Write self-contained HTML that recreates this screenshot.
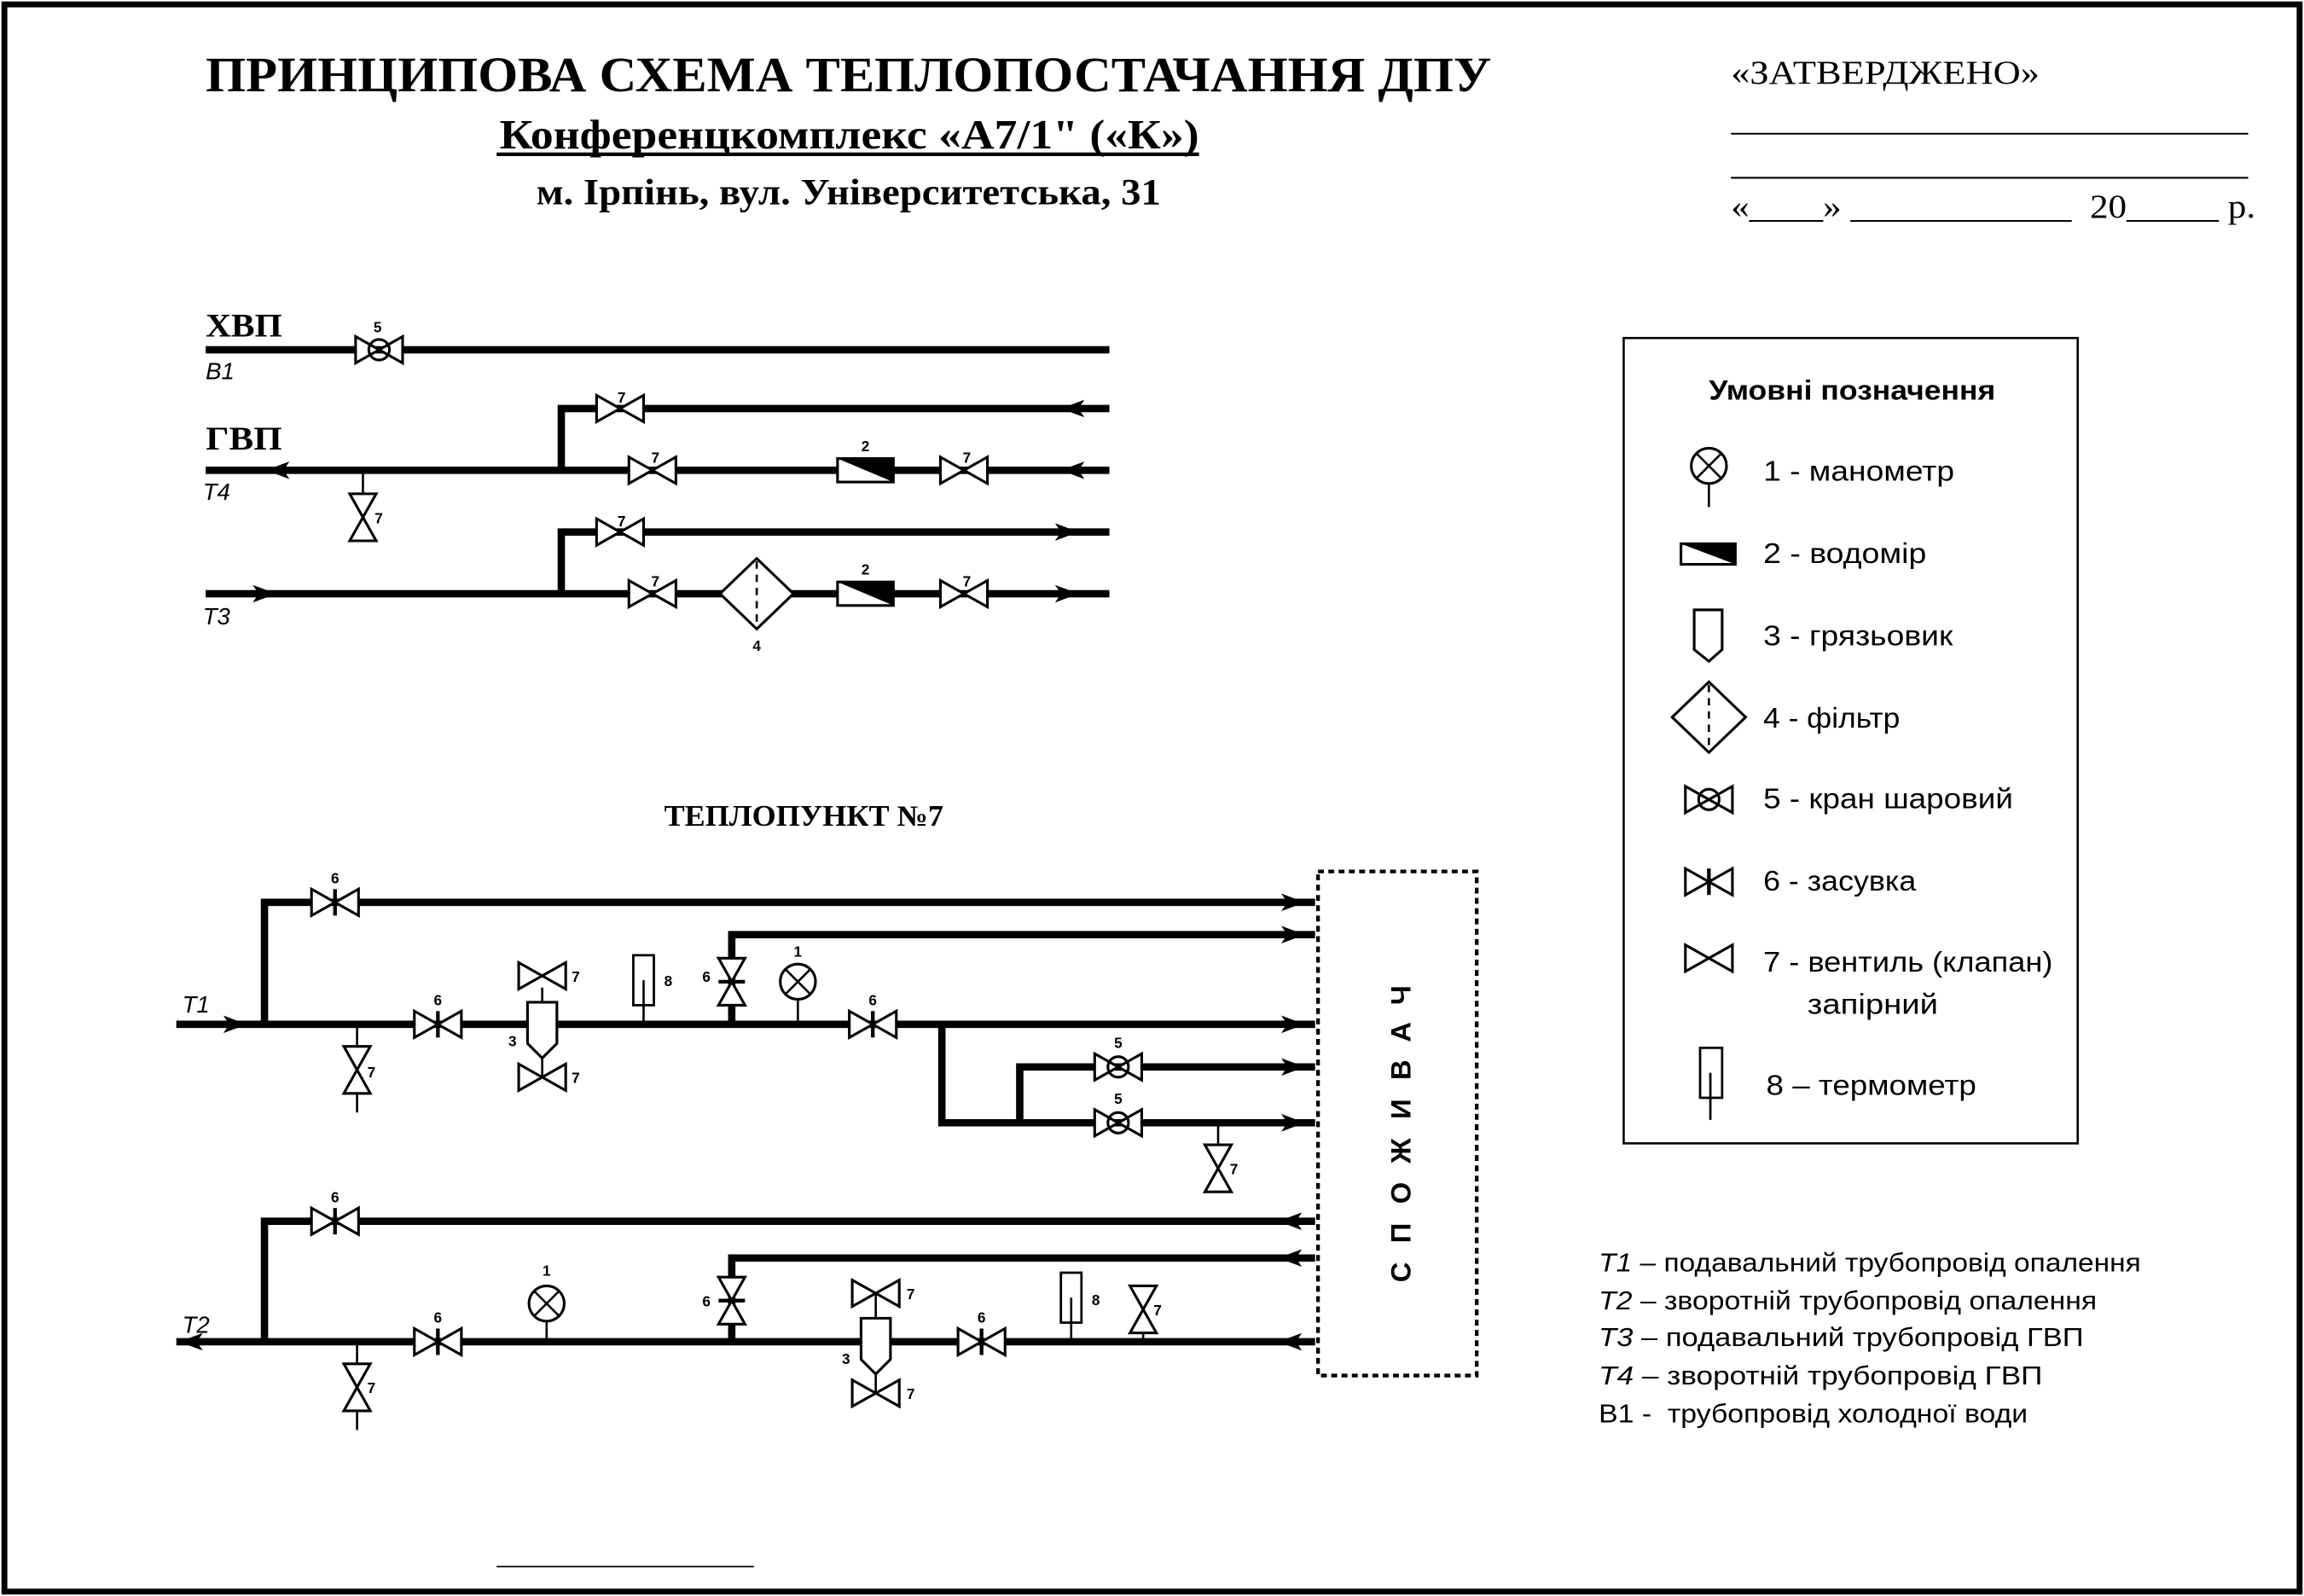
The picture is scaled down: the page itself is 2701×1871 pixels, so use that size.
<!DOCTYPE html>
<html><head><meta charset="utf-8"><style>
html,body{margin:0;padding:0;background:#fff}
svg{display:block}
.s{font-family:"Liberation Serif",serif;font-weight:bold}
.n{font-family:"Liberation Sans",sans-serif}
.lb{font-family:"Liberation Sans",sans-serif;font-size:10px;font-weight:bold}
</style></head><body>
<svg width="2701" height="1871" viewBox="0 0 1568 1086" preserveAspectRatio="none" xmlns="http://www.w3.org/2000/svg">
<defs>
<g id="v7"><path d="M-16,-9 L16,9 L16,-9 L-16,9 Z" fill="#fff" stroke="#000" stroke-width="1.8"/></g>
<g id="v6"><path d="M-16,-9 L16,9 L16,-9 L-16,9 Z" fill="#fff" stroke="#000" stroke-width="1.8"/><line x1="0" y1="-9" x2="0" y2="9" stroke="#000" stroke-width="2.5"/></g>
<g id="v5"><path d="M-16,-9 L16,9 L16,-9 L-16,9 Z" fill="#fff" stroke="#000" stroke-width="1.8"/><circle r="7" fill="none" stroke="#000" stroke-width="1.8"/></g>
<g id="ar"><path d="M-12,-6 L4,0 L-12,6 L-8,0 Z" fill="#000"/></g>
<g id="al"><path d="M12,-6 L-4,0 L12,6 L8,0 Z" fill="#000"/></g>
<g id="wm"><rect x="-19" y="-8" width="38" height="16" fill="#fff" stroke="#000" stroke-width="1.8"/><path d="M-19,-8 L19,-8 L19,8 Z" fill="#000"/></g>
<g id="mn"><circle r="12" fill="#fff" stroke="#000" stroke-width="1.8"/><path d="M-8.5,-8.5 L8.5,8.5 M8.5,-8.5 L-8.5,8.5" stroke="#000" stroke-width="1.5"/></g>
<g id="th"><rect x="-7" y="-17" width="14" height="34" fill="#fff" stroke="#000" stroke-width="1.6"/><line x1="0" y1="0" x2="0" y2="17" stroke="#000" stroke-width="1.5"/></g>
<g id="mud"><path d="M-10,0 L10,0 L10,28 L0,38 L-10,28 Z" fill="#fff" stroke="#000" stroke-width="1.8"/></g>
</defs>
<rect x="3" y="3" width="1562" height="1080" fill="none" stroke="#000" stroke-width="4"/>

<!-- header -->
<text x="140" y="62" class="s" font-size="34" textLength="875" lengthAdjust="spacingAndGlyphs">ПРИНЦИПОВА СХЕМА ТЕПЛОПОСТАЧАННЯ ДПУ</text>
<text x="340" y="101" class="s" font-size="28" textLength="476" lengthAdjust="spacingAndGlyphs">Конференцкомплекс «А7/1" («К»)</text>
<line x1="338" y1="105" x2="816" y2="105" stroke="#000" stroke-width="2.5"/>
<text x="365" y="139" class="s" font-size="25" textLength="425" lengthAdjust="spacingAndGlyphs">м. Ірпінь, вул. Університетська, 31</text>
<text x="1178" y="57" font-family="Liberation Serif,serif" font-size="23" textLength="210" lengthAdjust="spacingAndGlyphs">«ЗАТВЕРДЖЕНО»</text>
<line x1="1178" y1="91" x2="1530" y2="91" stroke="#000" stroke-width="1.2"/>
<line x1="1178" y1="121" x2="1530" y2="121" stroke="#000" stroke-width="1.2"/>
<text x="1178" y="148" font-family="Liberation Serif,serif" font-size="23" textLength="357" lengthAdjust="spacingAndGlyphs" xml:space="preserve">«____» ____________  20_____ р.</text>

<!-- ХВП / ГВП -->
<g stroke="#000" stroke-width="5" fill="none">
<line x1="140" y1="238" x2="755" y2="238"/>
<line x1="140" y1="320" x2="755" y2="320"/>
<polyline points="382,320 382,278 755,278"/>
<line x1="140" y1="404" x2="755" y2="404"/>
<polyline points="382,404 382,362 755,362"/>
</g>
<text x="140" y="229" class="s" font-size="23" textLength="52" lengthAdjust="spacingAndGlyphs">ХВП</text>
<text x="140" y="258" class="n" font-size="16" font-style="italic">В1</text>
<text x="140" y="306" class="s" font-size="23" textLength="52" lengthAdjust="spacingAndGlyphs">ГВП</text>
<text x="138" y="340" class="n" font-size="16" font-style="italic">Т4</text>
<text x="138" y="425" class="n" font-size="16" font-style="italic">Т3</text>
<use href="#v5" x="258" y="238"/><text x="257" y="226" class="lb" text-anchor="middle">5</text>
<use href="#v7" x="422" y="278"/><text x="423" y="274" class="lb" text-anchor="middle">7</text>
<use href="#al" x="726" y="278"/>
<use href="#al" x="185" y="320"/>
<use href="#v7" x="444" y="320"/><text x="446" y="315" class="lb" text-anchor="middle">7</text>
<use href="#wm" x="589" y="320"/><text x="589" y="307" class="lb" text-anchor="middle">2</text>
<use href="#v7" x="656" y="320"/><text x="658" y="315" class="lb" text-anchor="middle">7</text>
<use href="#al" x="726" y="320"/>
<line x1="247" y1="320" x2="247" y2="336" stroke="#000" stroke-width="1.5"/>
<use href="#v7" transform="translate(247,352) rotate(90)"/><text x="255" y="356" class="lb">7</text>
<use href="#ar" x="184" y="404"/>
<use href="#v7" x="422" y="362"/><text x="423" y="358" class="lb" text-anchor="middle">7</text>
<use href="#ar" x="730" y="362"/>
<use href="#v7" x="444" y="404"/><text x="446" y="399" class="lb" text-anchor="middle">7</text>
<path d="M490,404 L515,380 L540,404 L515,428 Z" fill="#fff" stroke="#000" stroke-width="1.8"/>
<line x1="515" y1="382" x2="515" y2="426" stroke="#000" stroke-width="1.5" stroke-dasharray="5,4"/>
<text x="515" y="443" class="lb" text-anchor="middle">4</text>
<use href="#wm" x="589" y="404"/><text x="589" y="391" class="lb" text-anchor="middle">2</text>
<use href="#v7" x="656" y="404"/><text x="658" y="399" class="lb" text-anchor="middle">7</text>
<use href="#ar" x="730" y="404"/>

<!-- ТЕПЛОПУНКТ -->
<text x="452" y="562" class="s" font-size="20" textLength="190" lengthAdjust="spacingAndGlyphs">ТЕПЛОПУНКТ №7</text>
<g stroke="#000" stroke-width="5" fill="none">
<polyline points="180,697 180,614 895,614"/>
<polyline points="498,697 498,636 895,636"/>
<line x1="120" y1="697" x2="895" y2="697"/>
<polyline points="641,697 641,764 895,764"/>
<polyline points="694,764 694,726 895,726"/>
<polyline points="180,913 180,831 895,831"/>
<polyline points="498,913 498,856 895,856"/>
<line x1="120" y1="913" x2="895" y2="913"/>
</g>
<text x="124" y="689" class="n" font-size="16" font-style="italic">Т1</text>
<text x="124" y="907" class="n" font-size="16" font-style="italic">Т2</text>
<use href="#ar" x="164" y="697"/>
<g>
<use href="#ar" x="884" y="614"/><use href="#ar" x="884" y="636"/><use href="#ar" x="884" y="697"/>
<use href="#ar" x="884" y="726"/><use href="#ar" x="884" y="764"/>
<use href="#al" x="874" y="831"/><use href="#al" x="874" y="856"/><use href="#al" x="874" y="913"/>
<use href="#al" x="126" y="913"/>
</g>
<!-- T1 components -->
<use href="#v6" x="228" y="614"/><text x="228" y="601" class="lb" text-anchor="middle">6</text>
<use href="#v6" transform="translate(498,668) rotate(90)"/><text x="478" y="668" class="lb">6</text>
<line x1="243" y1="697" x2="243" y2="712" stroke="#000" stroke-width="1.5"/>
<use href="#v7" transform="translate(243,728) rotate(90)"/><line x1="243" y1="744" x2="243" y2="757" stroke="#000" stroke-width="1.5"/><text x="250" y="733" class="lb">7</text>
<use href="#v6" x="298" y="697"/><text x="298" y="684" class="lb" text-anchor="middle">6</text>
<line x1="369" y1="672" x2="369" y2="733" stroke="#000" stroke-width="1.5"/>
<use href="#v7" x="369" y="664"/><text x="389" y="668" class="lb">7</text>
<use href="#mud" x="369" y="682"/>
<use href="#v7" x="369" y="733"/><text x="389" y="737" class="lb">7</text>
<text x="346" y="712" class="lb">3</text>
<use href="#th" x="438" y="667"/><line x1="438" y1="684" x2="438" y2="697" stroke="#000" stroke-width="1.5"/><text x="452" y="671" class="lb">8</text>
<line x1="543" y1="680" x2="543" y2="697" stroke="#000" stroke-width="1.5"/>
<use href="#mn" x="543" y="668"/><text x="543" y="651" class="lb" text-anchor="middle">1</text>
<use href="#v6" x="594" y="697"/><text x="594" y="684" class="lb" text-anchor="middle">6</text>
<use href="#v5" x="761" y="726"/><text x="761" y="713" class="lb" text-anchor="middle">5</text>
<use href="#v5" x="761" y="764"/><text x="761" y="751" class="lb" text-anchor="middle">5</text>
<line x1="829" y1="764" x2="829" y2="778" stroke="#000" stroke-width="1.5"/>
<use href="#v7" transform="translate(829,795) rotate(90)"/><text x="837" y="799" class="lb">7</text>
<!-- T2 components -->
<use href="#v6" x="228" y="831"/><text x="228" y="818" class="lb" text-anchor="middle">6</text>
<use href="#v6" transform="translate(498,885) rotate(90)"/><text x="478" y="889" class="lb">6</text>
<line x1="243" y1="913" x2="243" y2="928" stroke="#000" stroke-width="1.5"/>
<use href="#v7" transform="translate(243,944) rotate(90)"/><line x1="243" y1="960" x2="243" y2="973" stroke="#000" stroke-width="1.5"/><text x="250" y="948" class="lb">7</text>
<use href="#v6" x="298" y="913"/><text x="298" y="900" class="lb" text-anchor="middle">6</text>
<line x1="372" y1="899" x2="372" y2="913" stroke="#000" stroke-width="1.5"/>
<use href="#mn" x="372" y="887"/><text x="372" y="868" class="lb" text-anchor="middle">1</text>
<line x1="596" y1="880" x2="596" y2="948" stroke="#000" stroke-width="1.5"/>
<use href="#v7" x="596" y="880"/><text x="617" y="884" class="lb">7</text>
<use href="#mud" x="596" y="897"/>
<use href="#v7" x="596" y="948"/><text x="617" y="952" class="lb">7</text>
<text x="573" y="928" class="lb">3</text>
<use href="#v6" x="668" y="913"/><text x="668" y="900" class="lb" text-anchor="middle">6</text>
<use href="#th" x="729" y="883"/><line x1="729" y1="900" x2="729" y2="913" stroke="#000" stroke-width="1.5"/><text x="743" y="888" class="lb">8</text>
<use href="#v7" transform="translate(778,891) rotate(90)"/><line x1="778" y1="907" x2="778" y2="913" stroke="#000" stroke-width="1.5"/><text x="785" y="895" class="lb">7</text>

<!-- consumer -->
<rect x="897" y="593" width="108" height="343" fill="none" stroke="#000" stroke-width="2.5" stroke-dasharray="4,3"/>
<text transform="translate(960,765) rotate(-90)" text-anchor="middle" class="n" font-weight="bold" font-size="19" letter-spacing="13">СПОЖИВАЧ</text>

<!-- legend -->
<rect x="1105" y="230" width="309" height="548" fill="none" stroke="#000" stroke-width="1.5"/>
<text x="1163" y="272" class="n" font-weight="bold" font-size="19" textLength="195" lengthAdjust="spacingAndGlyphs">Умовні позначення</text>
<g class="n" font-size="19.5">
<text x="1200" y="327" textLength="130" lengthAdjust="spacingAndGlyphs">1 - манометр</text>
<text x="1200" y="383" textLength="111" lengthAdjust="spacingAndGlyphs">2 - водомір</text>
<text x="1200" y="439" textLength="129" lengthAdjust="spacingAndGlyphs">3 - грязьовик</text>
<text x="1200" y="495" textLength="93" lengthAdjust="spacingAndGlyphs">4 - фільтр</text>
<text x="1200" y="550" textLength="170" lengthAdjust="spacingAndGlyphs">5 - кран шаровий</text>
<text x="1200" y="606" textLength="104" lengthAdjust="spacingAndGlyphs">6 - засувка</text>
<text x="1200" y="661" textLength="197" lengthAdjust="spacingAndGlyphs">7 - вентиль (клапан)</text>
<text x="1230" y="690" textLength="89" lengthAdjust="spacingAndGlyphs">запірний</text>
<text x="1202" y="745" textLength="143" lengthAdjust="spacingAndGlyphs">8 – термометр</text>
</g>
<circle cx="1163" cy="317" r="12" fill="none" stroke="#000" stroke-width="1.8"/>
<path d="M1154.5,308.5 L1171.5,325.5 M1171.5,308.5 L1154.5,325.5 M1163,329 L1163,345" stroke="#000" stroke-width="1.5"/>
<rect x="1144" y="370" width="37" height="14" fill="#fff" stroke="#000" stroke-width="1.8"/><path d="M1144,370 L1181,370 L1181,384 Z" fill="#000"/>
<path d="M1153,415 L1172,415 L1172,442 L1163,450 L1153,442 Z" fill="none" stroke="#000" stroke-width="1.8"/>
<path d="M1138,488 L1163,464 L1188,488 L1163,512 Z" fill="none" stroke="#000" stroke-width="1.8"/>
<line x1="1163" y1="466" x2="1163" y2="510" stroke="#000" stroke-width="1.5" stroke-dasharray="5,4"/>
<use href="#v5" x="1163" y="544"/>
<use href="#v6" x="1163" y="600"/>
<use href="#v7" x="1163" y="652"/>
<rect x="1157" y="713" width="15" height="34" fill="none" stroke="#000" stroke-width="1.6"/>
<line x1="1164" y1="730" x2="1164" y2="762" stroke="#000" stroke-width="1.6"/>

<!-- notes -->
<g class="n" font-size="17.5">
<text x="1088" y="865" textLength="369" lengthAdjust="spacingAndGlyphs"><tspan font-style="italic">Т1</tspan> – подавальний трубопровід опалення</text>
<text x="1088" y="891" textLength="339" lengthAdjust="spacingAndGlyphs"><tspan font-style="italic">Т2</tspan> – зворотній трубопровід опалення</text>
<text x="1088" y="916" textLength="330" lengthAdjust="spacingAndGlyphs"><tspan font-style="italic">Т3</tspan> – подавальний трубопровід ГВП</text>
<text x="1088" y="942" textLength="302" lengthAdjust="spacingAndGlyphs"><tspan font-style="italic">Т4</tspan> – зворотній трубопровід ГВП</text>
<text x="1088" y="968" textLength="292" lengthAdjust="spacingAndGlyphs" xml:space="preserve">В1 -  трубопровід холодної води</text>
</g>
<line x1="338" y1="1066" x2="513" y2="1066" stroke="#000" stroke-width="1"/>
</svg>
</body></html>
